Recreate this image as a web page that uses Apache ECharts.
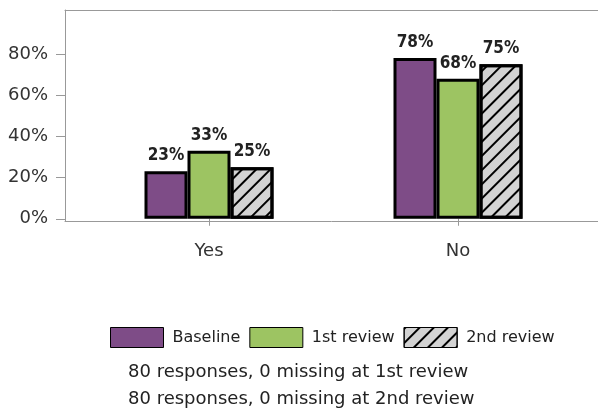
<!DOCTYPE html>
<html>
<head>
<meta charset="utf-8">
<script src="https://cdn.jsdelivr.net/npm/echarts@6/dist/echarts.min.js"></script>
<style>
html,body{margin:0;padding:0;background:#fff;}
#main{width:598px;height:416px;}
</style>
</head>
<body>
<div id="main"></div>
<script>
var categories = ['Yes', 'No'];
var seriesNames = ['Baseline', '1st review', '2nd review'];
var baseline = [23, 78];
var review1 = [33, 68];
var review2 = [25, 75];
var yTicks = [0, 20, 40, 60, 80];
var notes = ['80 responses, 0 missing at 1st review', '80 responses, 0 missing at 2nd review'];

var FONT = 'DejaVu Sans';
var chart = echarts.init(document.getElementById('main'), null, {renderer: 'canvas'});

var hatch = {
  symbol: 'rect',
  symbolSize: 1,
  color: '#000',
  dashArrayX: [1, 0],
  dashArrayY: [2, 8],
  rotation: -Math.PI / 4
};

function mkSeries(name, data, color, decal) {
  var s = {
    name: name,
    type: 'bar',
    xAxisIndex: 0,
    yAxisIndex: 0,
    data: data,
    barWidth: 43,
    barGap: '0%',
    itemStyle: {color: color, borderColor: '#000', borderWidth: 3},
    label: {
      show: true,
      position: 'top',
      distance: 7,
      formatter: '{c}%',
      fontFamily: 'DejaVu Sans Condensed, DejaVu Sans',
      fontWeight: 'bold',
      fontSize: 17,
      color: '#222'
    }
  };
  if (decal) s.itemStyle.decal = decal;
  return s;
}

var frameLine = {show: true, lineStyle: {color: '#999', width: 1}};
var frameAxis = function (extra) {
  var a = {
    gridIndex: 1, type: 'value', min: 0, max: 1,
    axisLine: frameLine, axisTick: {show: false}, axisLabel: {show: false}, splitLine: {show: false}
  };
  for (var k in extra) a[k] = extra[k];
  return a;
};

var option = {
  animation: false,
  backgroundColor: '#fff',
  grid: [
    {left: 84.5, right: 15.5, top: 12.75, bottom: 416 - 218.75},
    {left: 65, right: 0, top: 10, bottom: 416 - 221}
  ],
  xAxis: [
    {
      type: 'category', gridIndex: 0, data: categories,
      axisLine: {show: false},
      axisTick: {show: true, alignWithLabel: true, length: 7, lineStyle: {color: '#999'}},
      offset: 4,
      axisLabel: {fontFamily: FONT, fontSize: 18, color: '#333', margin: 20}
    },
    frameAxis({position: 'bottom'}),
    frameAxis({position: 'top'})
  ],
  yAxis: [
    {
      type: 'value', gridIndex: 0, min: 0, max: 100, interval: 20,
      offset: 19.5,
      splitLine: {show: false},
      axisLine: {show: false},
      axisTick: {show: true, length: 9, customValues: yTicks, lineStyle: {color: '#999'}},
      axisLabel: {
        fontFamily: FONT, fontSize: 18, color: '#333', margin: 17,
        customValues: yTicks,
        formatter: function (v) { return v + '%'; }
      }
    },
    frameAxis({position: 'left'})
  ],
  legend: {
    left: 110,
    top: 327,
    padding: 0,
    itemWidth: 53,
    itemHeight: 20,
    itemGap: 9,
    icon: 'rect',
    data: seriesNames,
    itemStyle: {borderWidth: 1, borderColor: '#000'},
    textStyle: {fontFamily: FONT, fontSize: 16, color: '#222', padding: [0, 0, 0, 4]}
  },
  graphic: [
    {type: 'text', left: 128, top: 363, style: {text: notes[0], font: '18px "DejaVu Sans"', fill: '#222'}},
    {type: 'text', left: 128, top: 390, style: {text: notes[1], font: '18px "DejaVu Sans"', fill: '#222'}}
  ],
  series: [
    mkSeries(seriesNames[0], baseline, '#7E4C87'),
    mkSeries(seriesNames[1], review1, '#9DC462'),
    mkSeries(seriesNames[2], review2, '#D3D3D3', hatch)
  ]
};
chart.setOption(option);
</script>
</body>
</html>
